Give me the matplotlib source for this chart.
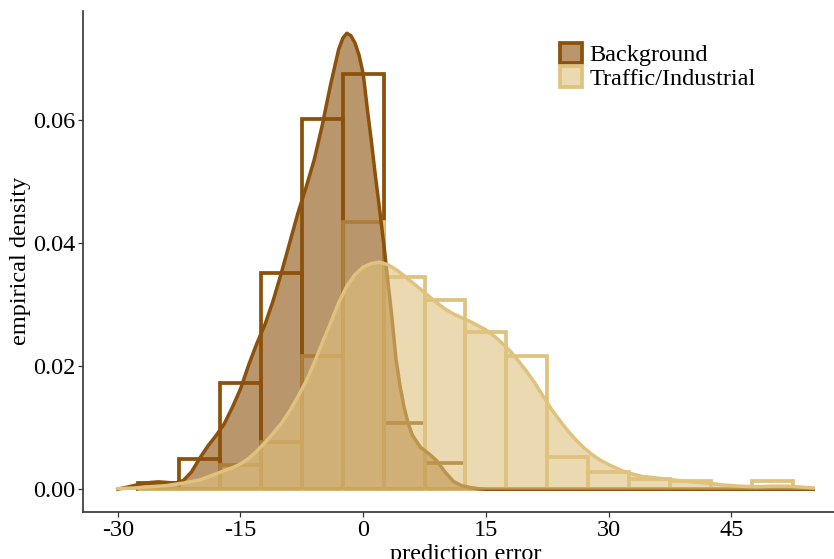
import matplotlib
matplotlib.use("Agg")
import matplotlib.pyplot as plt
from matplotlib.colors import to_rgba
from matplotlib.patches import Patch

plt.rcParams["font.family"] = ["Liberation Serif", "DejaVu Serif"]
plt.rcParams["axes.unicode_minus"] = False

# Histogram bins (width 5), centred on multiples of 5
bin_centers = [-25, -20, -15, -10, -5, 0, 5, 10, 15, 20, 25, 30, 35, 40, 45, 50]
hist_background = [0.0010, 0.0049, 0.0172, 0.0352, 0.0602, 0.0675, 0.0107, 0.0042,
                   0.0, 0.0, 0.0, 0.0, 0.0, 0.0, 0.0, 0.0]
hist_traffic = [0.0, 0.0, 0.0039, 0.0077, 0.0216, 0.0434, 0.0345, 0.0307,
                0.0255, 0.0216, 0.0052, 0.0028, 0.0016, 0.0013, 0.0, 0.0013]

# Kernel density estimates of the prediction error
kde_bg_x = [-30, -29, -28, -27, -26, -25, -24, -23, -22, -21, -20, -19, -18, -17,
            -16, -15, -14, -13, -12, -11, -10, -9, -8, -7, -6, -5, -4, -3, -2.5,
            -2, -1.5, -1, -0.5, 0, 0.5, 1, 1.5, 2, 2.5, 3, 3.5, 4, 4.5, 5, 5.5,
            6, 7, 8, 9, 10, 11, 12, 13, 14, 15, 20, 25, 30, 35, 40, 45, 50, 55]
kde_bg_y = [0.0000, 0.0003, 0.0006, 0.0009, 0.0011, 0.0012, 0.0011, 0.0010, 0.0014,
            0.0028, 0.0050, 0.0070, 0.0087, 0.0106, 0.0133, 0.0163, 0.0202, 0.0237,
            0.0268, 0.0307, 0.0352, 0.0400, 0.0448, 0.0490, 0.0535, 0.0592, 0.0657,
            0.0715, 0.0733, 0.0741, 0.0737, 0.0725, 0.0705, 0.0675, 0.0618, 0.0565,
            0.0508, 0.0455, 0.0400, 0.0340, 0.0280, 0.0212, 0.0168, 0.0133, 0.0107,
            0.0088, 0.0068, 0.0058, 0.0046, 0.0028, 0.0013, 0.0006, 0.0003, 0.0001,
            0.0000, 0.0, 0.0, 0.0, 0.0, 0.0, 0.0, 0.0, 0.0]

kde_tr_x = [-30, -28, -26, -24, -22, -20, -18, -16, -15, -14, -13, -12, -11, -10,
            -9, -8, -7, -6, -5, -4, -3, -2, -1, 0, 1, 2, 3, 4, 5, 6, 7, 8, 9, 10,
            11, 12, 13, 14, 15, 16, 17, 18, 19, 20, 21, 22, 23, 24, 25, 26, 27, 28,
            29, 30, 32, 34, 36, 38, 40, 42, 44, 46, 48, 50, 52, 54, 55]
kde_tr_y = [0.0001, 0.0002, 0.0004, 0.0006, 0.0010, 0.0015, 0.0025, 0.0035, 0.0041,
            0.0050, 0.0062, 0.0076, 0.0091, 0.0107, 0.0127, 0.0150, 0.0175, 0.0205,
            0.0238, 0.0270, 0.0303, 0.0330, 0.0349, 0.0361, 0.0367, 0.0369, 0.0365,
            0.0357, 0.0347, 0.0336, 0.0325, 0.0314, 0.0303, 0.0293, 0.0285, 0.0279,
            0.0273, 0.0266, 0.0259, 0.0249, 0.0237, 0.0224, 0.0208, 0.0191, 0.0172,
            0.0151, 0.0130, 0.0112, 0.0095, 0.0080, 0.0067, 0.0056, 0.0047, 0.0040,
            0.0028, 0.0021, 0.0018, 0.0015, 0.0012, 0.0010, 0.0007, 0.0005, 0.0004,
            0.0005, 0.0005, 0.0003, 0.0002]

groups = ["Background", "Traffic/Industrial"]
colors = ["#8C510A", "#DFC27D"]
fill_alpha = 0.6

W, H = 834, 559
fig = plt.figure(figsize=(W / 100, H / 100), dpi=100)
left, right, top, bottom = 83, 848, 10.5, 512
ax = fig.add_axes([left / W, 1 - bottom / H, (right - left) / W, (bottom - top) / H])

bar_lw = 2.7
line_lw = 2.5

# Histograms (outline only)
ax.bar(bin_centers, hist_background, width=5, fill=False, edgecolor=colors[0],
       linewidth=bar_lw, joinstyle="miter", zorder=2)
ax.bar(bin_centers, hist_traffic, width=5, fill=False, edgecolor=colors[1],
       linewidth=bar_lw, joinstyle="miter", zorder=3)

# Densities
ax.fill_between(kde_bg_x, kde_bg_y, 0, color=colors[0], alpha=fill_alpha,
                linewidth=0, zorder=4)
ax.plot(kde_bg_x, kde_bg_y, color=colors[0], linewidth=line_lw,
        solid_joinstyle="round", zorder=4.5)
ax.fill_between(kde_tr_x, kde_tr_y, 0, color=colors[1], alpha=fill_alpha,
                linewidth=0, zorder=5)
ax.plot(kde_tr_x, kde_tr_y, color=colors[1], linewidth=line_lw,
        solid_joinstyle="round", zorder=5.5)

ax.set_xlim(-34.25, 59.25)
ax.set_ylim(-0.0037, 0.0778)
ax.set_xticks([-30, -15, 0, 15, 30, 45])
ax.set_xticklabels(["-30", "-15", "0", "15", "30", "45"])
ax.set_yticks([0.0, 0.02, 0.04, 0.06])
ax.set_yticklabels(["0.00", "0.02", "0.04", "0.06"])

for side in ["top", "right"]:
    ax.spines[side].set_visible(False)
for side in ["left", "bottom"]:
    ax.spines[side].set_color("#333333")
    ax.spines[side].set_linewidth(1.2)

ax.tick_params(axis="both", labelsize=17.5, length=3.6, width=0.9,
               color="#333333", labelcolor="black", pad=2)
ax.set_xlabel("prediction error", fontsize=17.5, labelpad=2)
ax.set_ylabel("empirical density", fontsize=17.5, labelpad=1)

handles = [Patch(facecolor=to_rgba(c, fill_alpha), edgecolor=c, linewidth=bar_lw)
           for c in colors]
fig.legend(handles, groups, loc="upper left",
           bbox_to_anchor=(560 / W, 1 - 43 / H), frameon=False, fontsize=17.5,
           handlelength=0.9, handleheight=0.9, handletextpad=0.3,
           labelspacing=0.0, borderpad=0, borderaxespad=0)

fig.savefig("out.png", dpi=100)
